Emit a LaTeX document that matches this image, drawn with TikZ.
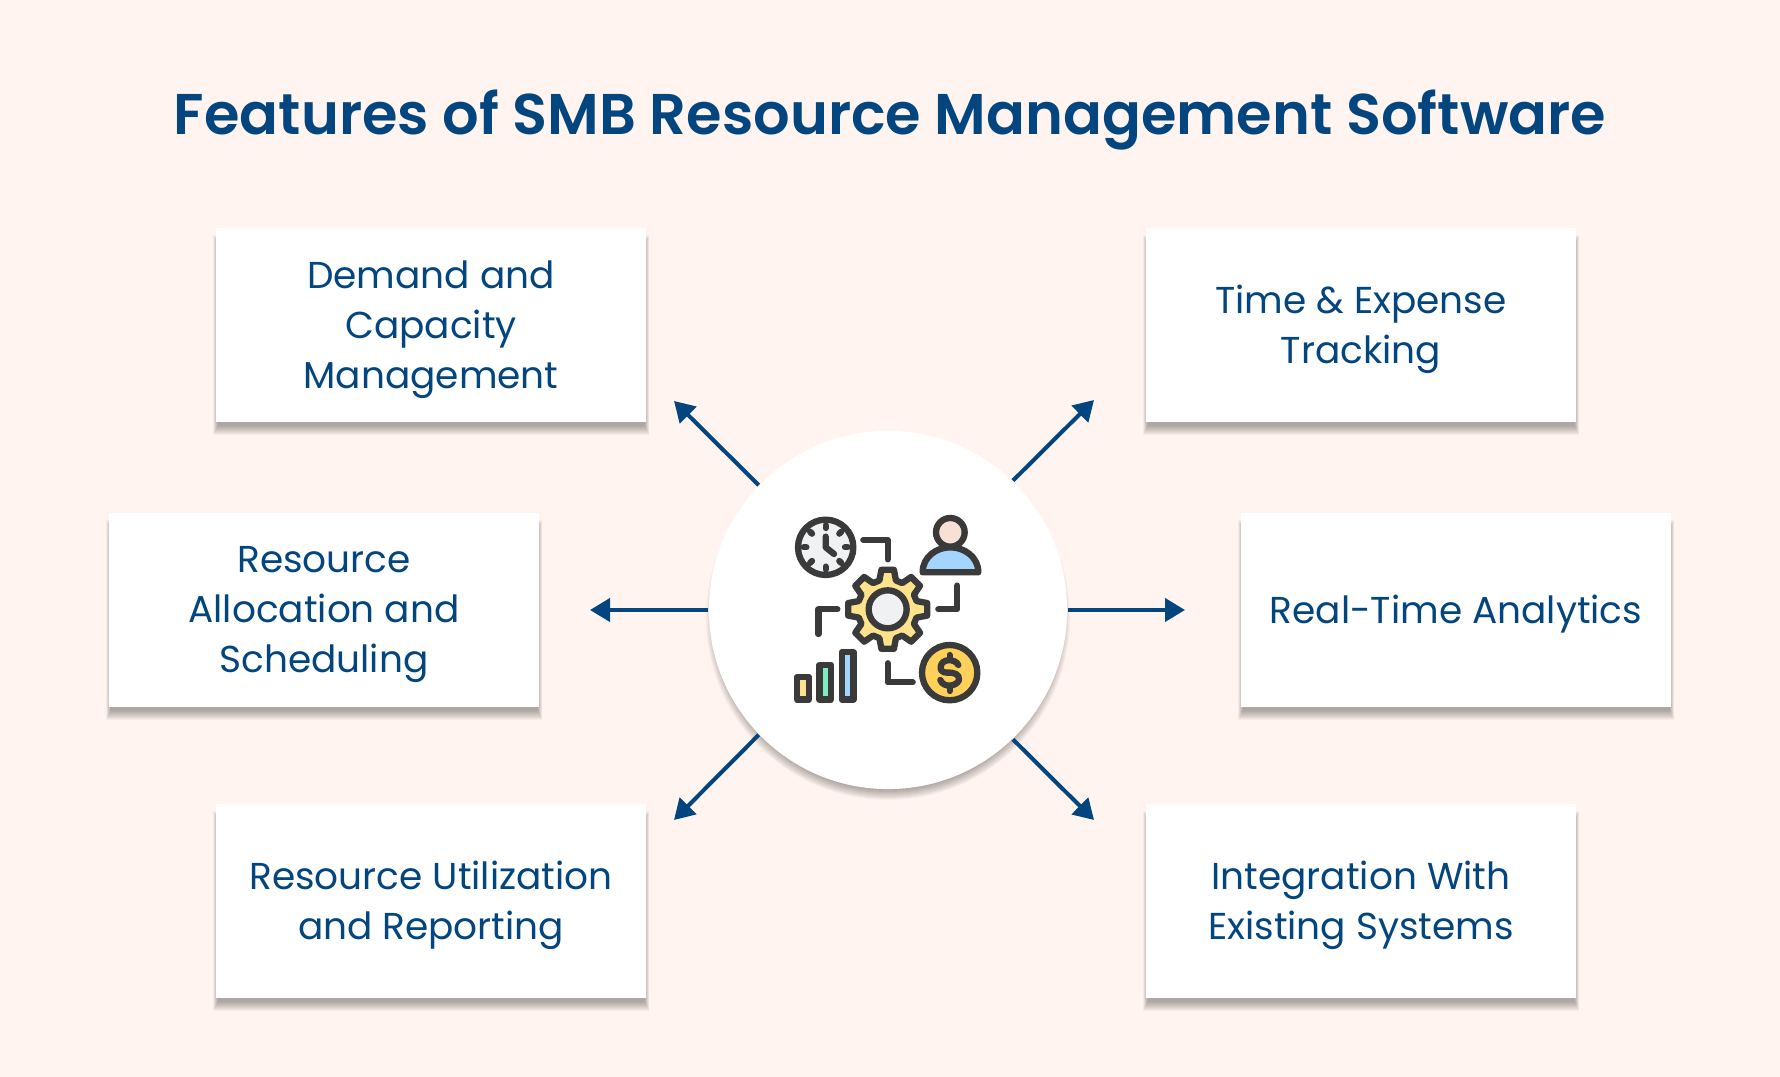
\documentclass[tikz,border=0pt]{standalone}
\usepackage{fontspec}
\setmainfont{Poppins}
\newfontface\titlefont{Poppins SemiBold}
\usepgflibrary{arrows.meta}
\definecolor{pagebg}{HTML}{FFF4EF}
\definecolor{inkblue}{HTML}{03457F}
\definecolor{icondark}{HTML}{3A3A3A}
\definecolor{iconpale}{HTML}{F0F1F3}
\definecolor{iconblue}{HTML}{A3D5FF}
\definecolor{iconskin}{HTML}{F7E1D4}
\definecolor{icongear}{HTML}{FFE38C}
\definecolor{iconcoin}{HTML}{FFD15B}
\definecolor{icongreen}{HTML}{7FEBC0}
\tikzset{
  feature/.style={fill=white,inner sep=0pt,minimum width=4.3cm,minimum height=1.94cm},
  featuretext/.style={text=inkblue,align=center,inner sep=0pt,font=\fontsize{10.65}{14.2}\selectfont},
  spoke/.style={color=inkblue,line width=1.15pt,-{Triangle[length=2mm,width=2.3mm]}},
  icon/.style={color=icondark,line width=1.8pt,line cap=round,line join=round},
}
\def\mybox#1#2#3#4{
  % 1: x
  % 2: y
  % 3: name
  % 4: text
  \foreach \g in {0,1,...,9}
    \fill[black,opacity=.035] (#1-218+\g*.5,#2-90+\g) rectangle (#1+218-\g*.5,#2+97+13-\g);
  \node[feature] (#3) at (#1,#2) {};
  \node[featuretext] (#3text) at (#1,#2+4.5) {#4};
}
\begin{document}
\begin{tikzpicture}[x=.01cm,y=-.01cm]
    \useasboundingbox (0,0) rectangle (1780,1077);
    \fill[pagebg] (0,0) rectangle (1780,1077);

    \node[text=inkblue,inner sep=0pt,font=\fontsize{16.33}{20}\titlefont] (title) at (890,120) {Features of SMB Resource Management Software};

    \mybox{431}{325}{demand}{Demand and\\Capacity\\Management}
    \mybox{1361}{325}{tracking}{Time \& Expense\\Tracking}
    \mybox{324}{610}{allocation}{Resource\\Allocation and\\Scheduling}
    \mybox{1456}{610}{analytics}{Real-Time Analytics}
    \mybox{431}{901}{reporting}{Resource Utilization\\and Reporting}
    \mybox{1361}{901}{integration}{Integration With\\Existing Systems}

    % hub and its shadow
    \foreach \g in {0,1,...,10}
      \fill[black,opacity=.03] (888,618) circle[radius=172+\g];
    \node[circle,fill=white,inner sep=0pt,minimum size=3.58cm] (hub) at (888,610) {};

    \coordinate (tipa) at (674,401);
    \coordinate (tipb) at (1094,400);
    \coordinate (tipc) at (590,610);
    \coordinate (tipd) at (1185,610);
    \coordinate (tipe) at (674,820);
    \coordinate (tipf) at (1094,820);
    \draw[spoke] (hub.136) -- (tipa);
    \draw[spoke] (hub.46) -- (tipb);
    \draw[spoke] (hub.180) -- (tipc);
    \draw[spoke] (hub.0) -- (tipd);
    \draw[spoke] (hub.224) -- (tipe);
    \draw[spoke] (hub.314) -- (tipf);

    % icon, in units of a third of a pixel
    \begin{scope}[shift={(760,490)},scale=.3333]
      % clock
      \draw[icon,fill=iconpale] (197,172) circle[radius=83];
      \foreach \a in {0,45,...,315}
        \draw[icon] (197,172) ++(\a:58) -- ++(\a:8);
      \draw[icon] (197,140) -- (197,172) -- (222,192);
      % person
      \draw[icon,fill=iconblue] (488,247) .. controls (488,200) and (530,172) .. (571,172) .. controls (612,172) and (655,200) .. (655,247) -- cycle;
      \draw[icon,fill=iconskin] (571,127) circle[radius=43];
      % gear
      \begin{scope}[shift={(383,358)}]
        \draw[icon,fill=icongear] (-16:90) \foreach \a in {0,45,...,315} { -- ({\a-16}:90) -- ({\a-9}:120) -- ({\a+9}:120) -- ({\a+16}:90) } -- cycle;
        \draw[icon,fill=iconpale] (0,0) circle[radius=57];
      \end{scope}
      % coin
      \draw[icon,fill=iconcoin] (569,548) circle[radius=83];
      \draw[icon] (595,525) .. controls (585,505) and (545,505) .. (542,530) .. controls (540,550) and (560,548) .. (569,548) .. controls (580,548) and (600,552) .. (597,570) .. controls (590,590) and (550,595) .. (541,570);
      \draw[icon] (569,495) -- (569,508) (569,590) -- (569,603);
      % bars
      \draw[icon,fill=icongear] (111,561) rectangle (146,629);
      \draw[icon,fill=icongreen] (178,525) rectangle (213,629);
      \draw[icon,fill=iconblue] (245,487) rectangle (280,629);
      % links
      \draw[icon] (310,150) -- (383,150) -- (383,208);
      \draw[icon] (592,287) -- (592,358) -- (535,358);
      \draw[icon] (232,358) -- (175,358) -- (175,432);
      \draw[icon] (383,520) -- (383,577) -- (458,577);
    \end{scope}
\end{tikzpicture}
\end{document}
